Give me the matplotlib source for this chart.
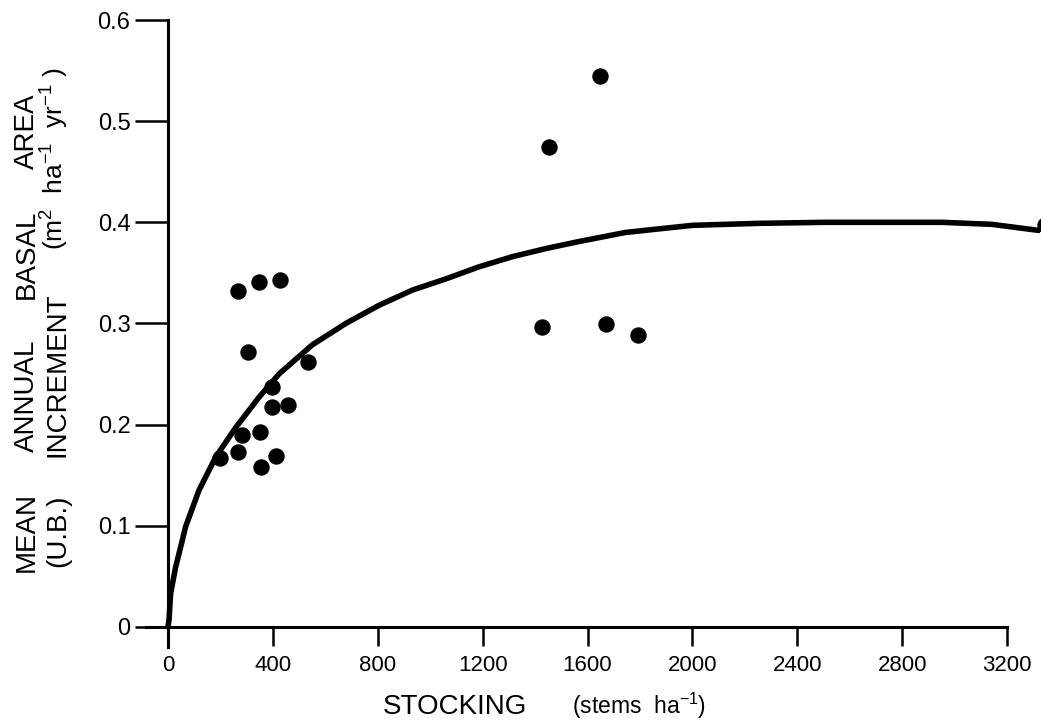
import matplotlib
matplotlib.use("Agg")
import matplotlib.pyplot as plt

plt.rcParams['font.family'] = ['Liberation Sans', 'DejaVu Sans']
plt.rcParams['mathtext.fontset'] = 'custom'
plt.rcParams['mathtext.rm'] = 'Liberation Sans'
plt.rcParams['mathtext.it'] = 'Liberation Sans:italic'

# plot observations: stocking (stems/ha) vs mean annual basal area increment
stocking = [268, 347, 426, 304, 533, 398, 398, 459, 283, 352, 197, 267, 411, 353,
            1427, 1647, 1453, 1671, 1793, 3344]
increment = [0.332, 0.341, 0.343, 0.272, 0.262, 0.237, 0.217, 0.219, 0.190, 0.193,
             0.167, 0.173, 0.169, 0.158, 0.297, 0.545, 0.474, 0.299, 0.289, 0.397]

# fitted response curve
curve_x = [0, 4, 10, 29, 55, 67, 118, 182, 258, 347, 423, 551, 678, 805, 932, 1059,
           1186, 1313, 1440, 1567, 1745, 1999, 2254, 2507, 2761, 2952, 3142, 3321]
curve_y = [0.0, 0.007, 0.033, 0.059, 0.086, 0.099, 0.135, 0.168, 0.197, 0.227, 0.250,
           0.279, 0.300, 0.318, 0.333, 0.344, 0.356, 0.366, 0.374, 0.381, 0.390, 0.397,
           0.399, 0.400, 0.400, 0.400, 0.398, 0.392]

xticks = [0, 400, 800, 1200, 1600, 2000, 2400, 2800, 3200]
yticks = [0, 0.1, 0.2, 0.3, 0.4, 0.5, 0.6]
ytick_labels = ['0', '0.1', '0.2', '0.3', '0.4', '0.5', '0.6']

fig = plt.figure(figsize=(10.41, 7.21), dpi=100)
ax = fig.add_axes([0.13996, 0.10236, 0.8589, 0.8699])

ax.plot(curve_x, curve_y, color='black', lw=4, solid_capstyle='round')
ax.plot(stocking, increment, 'o', color='black', ms=10.8)

ax.set_xlim(-85, 3325)
ax.set_ylim(-0.02, 0.6)

for side in ['top', 'right']:
    ax.spines[side].set_visible(False)
ax.spines['left'].set_position(('data', 0))
ax.spines['bottom'].set_position(('data', 0))
ax.spines['left'].set_bounds(-0.02, 0.6)
ax.spines['bottom'].set_bounds(-85, 3200)
for side in ['left', 'bottom']:
    ax.spines[side].set_linewidth(2.2)

ax.set_xticks(xticks)
ax.set_xticklabels([str(t) for t in xticks], fontsize=16)
ax.set_yticks(yticks)
ax.set_yticklabels(ytick_labels, fontsize=17)
ax.tick_params(axis='y', direction='out', length=24, width=1.8, pad=3)
ax.tick_params(axis='x', direction='out', length=14, width=1.8, pad=6)

W, H = 1041.0, 721.0

def vword(x, y, s, size=21):
    # rotated word, right edge at pixel x, starting at pixel y (from top)
    fig.text(x / W, 1 - y / H, s, rotation=90, ha='right', va='bottom', fontsize=size)

# y-axis title, first line
vword(40, 572, "MEAN", 20)
vword(40, 452, "ANNUAL", 20)
vword(40, 299, "BASAL", 20)
vword(40, 169, "AREA", 20)
# y-axis title, second line
vword(71, 567, "(U.B.)", 20)
vword(71, 457, "INCREMENT", 20)
vword(71, 250, r"(m$^2$  ha$^{-1}$  yr$^{-1}$ )", 19)

# x-axis title
fig.text(383 / W, 1 - 714 / H, "STOCKING", ha='left', va='baseline', fontsize=20)
fig.text(572 / W, 1 - 714 / H, r"(stems  ha$^{-1}$)", ha='left', va='baseline', fontsize=16.5)

fig.savefig("out.png", dpi=100, facecolor='white')
